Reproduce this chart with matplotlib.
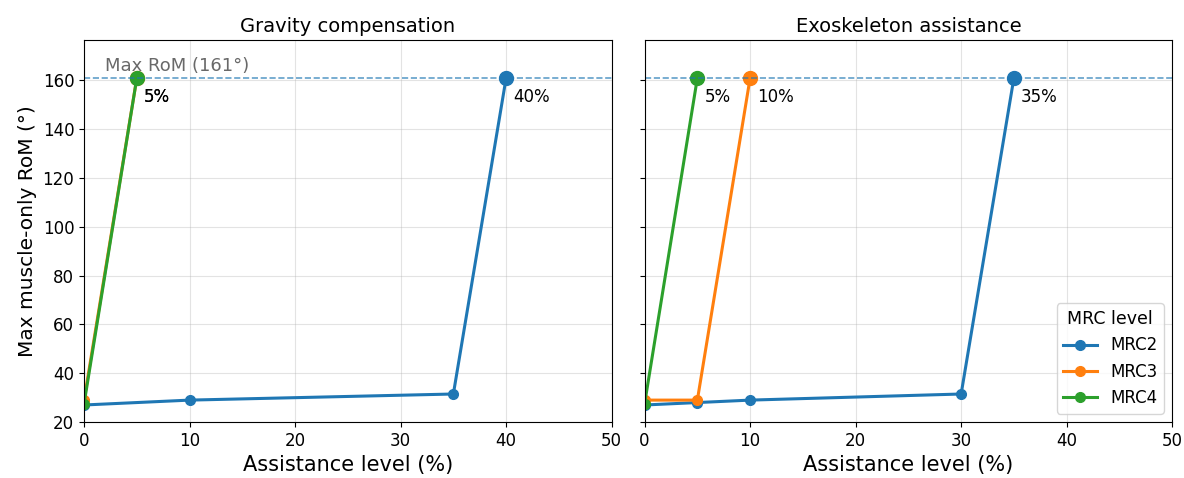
import numpy as np
import matplotlib.pyplot as plt

max_rom = 161

# Gravity compensation
grav_mrc2_x = [0, 10, 35, 40]
grav_mrc2_y = [27, 29, 31.5, 161]
grav_mrc3_x = [0, 5]
grav_mrc3_y = [29, 161]
grav_mrc4_x = [0, 5]
grav_mrc4_y = [27.5, 161]

# Exoskeleton assistance
exo_mrc2_x = [0, 5, 10, 30, 35]
exo_mrc2_y = [27, 28, 29, 31.5, 161]
exo_mrc3_x = [0, 5, 10]
exo_mrc3_y = [29, 29, 161]
exo_mrc4_x = [0, 5]
exo_mrc4_y = [27.5, 161]

labels = ['MRC2', 'MRC3', 'MRC4']
colors = ['tab:blue', 'tab:orange', 'tab:green']

panels = [
    ('Gravity compensation', [(grav_mrc2_x, grav_mrc2_y), (grav_mrc3_x, grav_mrc3_y), (grav_mrc4_x, grav_mrc4_y)]),
    ('Exoskeleton assistance', [(exo_mrc2_x, exo_mrc2_y), (exo_mrc3_x, exo_mrc3_y), (exo_mrc4_x, exo_mrc4_y)]),
]

fig, axes = plt.subplots(1, 2, figsize=(11.84, 4.78), dpi=100, sharey=True)

for i, (ax, (title, series)) in enumerate(zip(axes, panels)):
    for (x, y), lab, c in zip(series, labels, colors):
        ax.plot(x, y, 'o-', color=c, lw=2.2, ms=7, label=lab)
        ax.plot(x[-1], y[-1], 'o', color=c, ms=10)
        ax.annotate(f'{x[-1]}%', (x[-1], y[-1]), xytext=(5, -17),
                    textcoords='offset points', fontsize=12)
    ax.axhline(max_rom, color='tab:blue', ls='--', lw=1.2, alpha=0.7)
    ax.set_title(title, fontsize=14)
    ax.set_xlim(0, 50)
    ax.set_ylim(20, 176.5)
    ax.set_xlabel('Assistance level (%)', fontsize=15)
    ax.tick_params(labelsize=12)
    ax.grid(True, alpha=0.35)

axes[0].text(2, 164, f'Max RoM ({max_rom}°)', color='dimgray', fontsize=13)
axes[0].set_ylabel('Max muscle-only RoM (°)', fontsize=14.5)
axes[1].legend(title='MRC level', loc='lower right', fontsize=12, title_fontsize=12.5)

fig.subplots_adjust(left=0.071, right=0.990, top=0.916, bottom=0.117, wspace=0.0625)
plt.savefig('out.png')
